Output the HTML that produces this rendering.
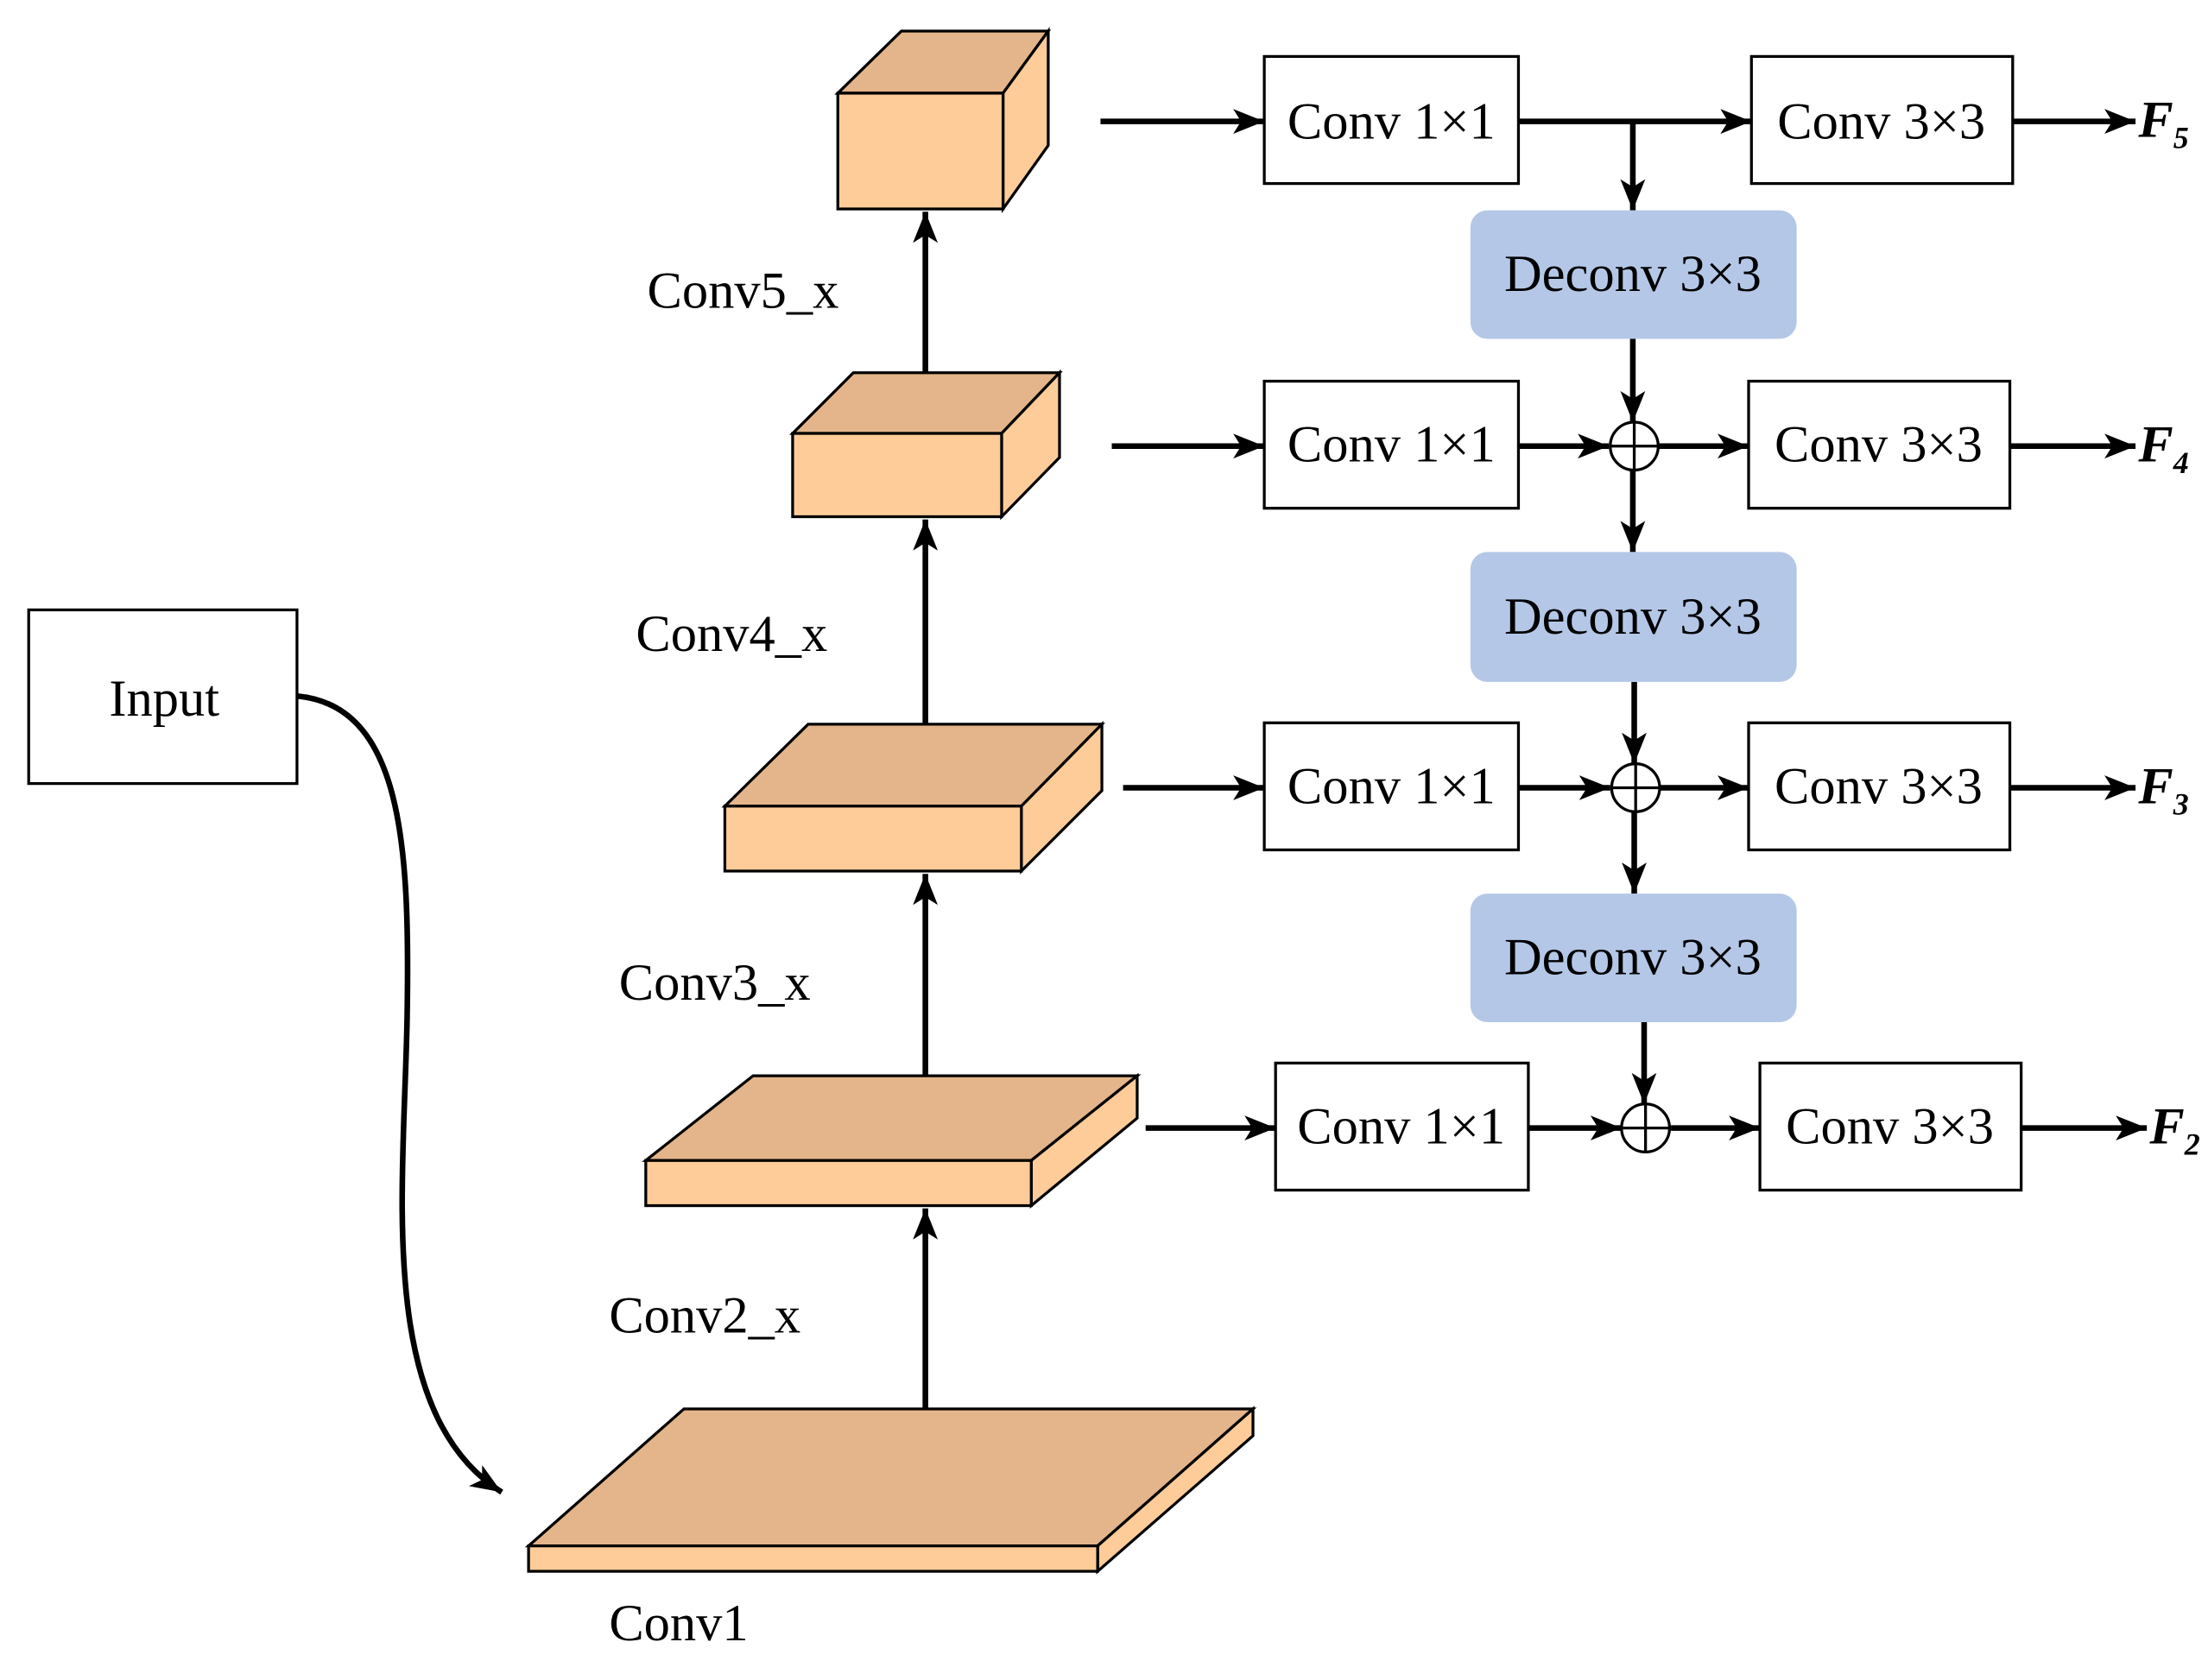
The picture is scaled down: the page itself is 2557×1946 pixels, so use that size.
<!DOCTYPE html>
<html><head><meta charset="utf-8"><style>
html,body{margin:0;padding:0;background:#fff;}
svg{display:block;}
text{font-family:"Liberation Serif",serif;font-size:37px;fill:#000;}
</style></head><body>
<svg width="2557" height="1946" viewBox="0 0 1563 1190" xmlns="http://www.w3.org/2000/svg">
<defs>
<marker id="ah" viewBox="0 0 20 16" refX="20" refY="8" markerWidth="22" markerHeight="18" orient="auto" markerUnits="userSpaceOnUse">
<path d="M0,0 L20,8 L0,16 L5,8 Z" fill="#000"/>
</marker>
</defs>
<g stroke="#000" stroke-width="2" stroke-linejoin="miter">
<polygon points="593,66 638,22 742,22 710,66" fill="#E4B58A"/>
<polygon points="710,66 742,22 742,103 710,148" fill="#FDCC99"/>
<rect x="593" y="66" width="117" height="82" fill="#FDCC99"/>
<polygon points="561,307 604,264 750,264 709,307" fill="#E4B58A"/>
<polygon points="709,307 750,264 750,324 709,366" fill="#FDCC99"/>
<rect x="561" y="307" width="148" height="59" fill="#FDCC99"/>
<polygon points="513,571 572,513 780,513 723,571" fill="#E4B58A"/>
<polygon points="723,571 780,513 780,560 723,617" fill="#FDCC99"/>
<rect x="513" y="571" width="210" height="46" fill="#FDCC99"/>
<polygon points="457,822 533,762 805,762 730,822" fill="#E4B58A"/>
<polygon points="730,822 805,762 805,792 730,854" fill="#FDCC99"/>
<rect x="457" y="822" width="273" height="32" fill="#FDCC99"/>
<polygon points="374,1095 484,998 887,998 777,1095" fill="#E4B58A"/>
<polygon points="777,1095 887,998 887,1017 777,1113" fill="#FDCC99"/>
<rect x="374" y="1095" width="403" height="18" fill="#FDCC99"/>
</g>
<g stroke="#000" stroke-width="4" fill="none">
<line x1="655" y1="998" x2="655" y2="856" marker-end="url(#ah)"/>
<line x1="655" y1="762" x2="655" y2="619" marker-end="url(#ah)"/>
<line x1="655" y1="513" x2="655" y2="368" marker-end="url(#ah)"/>
<line x1="655" y1="264" x2="655" y2="150" marker-end="url(#ah)"/>
<path d="M210,493 C285,500 290,600 288,720 C286,840 265,1000 355,1057" marker-end="url(#ah)"/>
<line x1="779" y1="86" x2="895" y2="86" marker-end="url(#ah)"/>
<line x1="1075" y1="86" x2="1240" y2="86" marker-end="url(#ah)"/>
<line x1="1425" y1="86" x2="1512" y2="86" marker-end="url(#ah)"/>
<line x1="1156" y1="86" x2="1156" y2="149" marker-end="url(#ah)"/>
<line x1="787" y1="316" x2="895" y2="316" marker-end="url(#ah)"/>
<line x1="1075" y1="316" x2="1139" y2="316" marker-end="url(#ah)"/>
<line x1="1174" y1="316" x2="1238" y2="316" marker-end="url(#ah)"/>
<line x1="1423" y1="316" x2="1512" y2="316" marker-end="url(#ah)"/>
<line x1="1156" y1="240" x2="1156" y2="299" marker-end="url(#ah)"/>
<line x1="1156" y1="333" x2="1156" y2="391" marker-end="url(#ah)"/>
<line x1="795" y1="558" x2="895" y2="558" marker-end="url(#ah)"/>
<line x1="1075" y1="558" x2="1140" y2="558" marker-end="url(#ah)"/>
<line x1="1175" y1="558" x2="1238" y2="558" marker-end="url(#ah)"/>
<line x1="1423" y1="558" x2="1512" y2="558" marker-end="url(#ah)"/>
<line x1="1157" y1="483" x2="1157" y2="541" marker-end="url(#ah)"/>
<line x1="1157" y1="575" x2="1157" y2="633" marker-end="url(#ah)"/>
<line x1="811" y1="799" x2="903" y2="799" marker-end="url(#ah)"/>
<line x1="1082" y1="799" x2="1148" y2="799" marker-end="url(#ah)"/>
<line x1="1183" y1="799" x2="1246" y2="799" marker-end="url(#ah)"/>
<line x1="1431" y1="799" x2="1520" y2="799" marker-end="url(#ah)"/>
<line x1="1164" y1="724" x2="1164" y2="782" marker-end="url(#ah)"/>
</g>
<g stroke="#000" stroke-width="2" fill="#fff">
<rect x="20" y="432" width="190" height="123"/>
<rect x="895" y="40" width="180" height="90"/>
<rect x="1240" y="40" width="185" height="90"/>
<rect x="895" y="270" width="180" height="90"/>
<rect x="1238" y="270" width="185" height="90"/>
<rect x="895" y="512" width="180" height="90"/>
<rect x="1238" y="512" width="185" height="90"/>
<rect x="903" y="753" width="179" height="90"/>
<rect x="1246" y="753" width="185" height="90"/>
</g>
<g fill="#B4C7E7">
<rect x="1041" y="149" width="231" height="91" rx="12"/>
<rect x="1041" y="391" width="231" height="92" rx="12"/>
<rect x="1041" y="633" width="231" height="91" rx="12"/>
</g>
<g stroke="#000" stroke-width="2" fill="#fff">
<circle cx="1157" cy="316" r="17"/><path d="M1140,316 H1174 M1157,299 V333"/>
<circle cx="1158" cy="558" r="17"/><path d="M1141,558 H1175 M1158,541 V575"/>
<circle cx="1165" cy="799" r="17"/><path d="M1148,799 H1182 M1165,782 V816"/>
</g>
<g text-anchor="middle">
<text x="116" y="507">Input</text>
<text x="985" y="98">Conv 1×1</text>
<text x="1332" y="98">Conv 3×3</text>
<text x="985" y="327">Conv 1×1</text>
<text x="1330" y="327">Conv 3×3</text>
<text x="985" y="569">Conv 1×1</text>
<text x="1330" y="569">Conv 3×3</text>
<text x="992" y="810">Conv 1×1</text>
<text x="1338" y="810">Conv 3×3</text>
<text x="1156" y="206">Deconv 3×3</text>
<text x="1156" y="449">Deconv 3×3</text>
<text x="1156" y="690">Deconv 3×3</text>
</g>
<text x="458" y="218">Conv5_x</text>
<text x="450" y="461">Conv4_x</text>
<text x="438" y="708">Conv3_x</text>
<text x="431" y="944">Conv2_x</text>
<text x="431" y="1162">Conv1</text>
<g font-weight="bold" font-style="italic">
<text x="1514" y="97">F<tspan font-size="22" dy="8">5</tspan></text>
<text x="1514" y="327">F<tspan font-size="22" dy="8">4</tspan></text>
<text x="1514" y="569">F<tspan font-size="22" dy="8">3</tspan></text>
<text x="1522" y="810">F<tspan font-size="22" dy="8">2</tspan></text>
</g>
</svg>
</body></html>
